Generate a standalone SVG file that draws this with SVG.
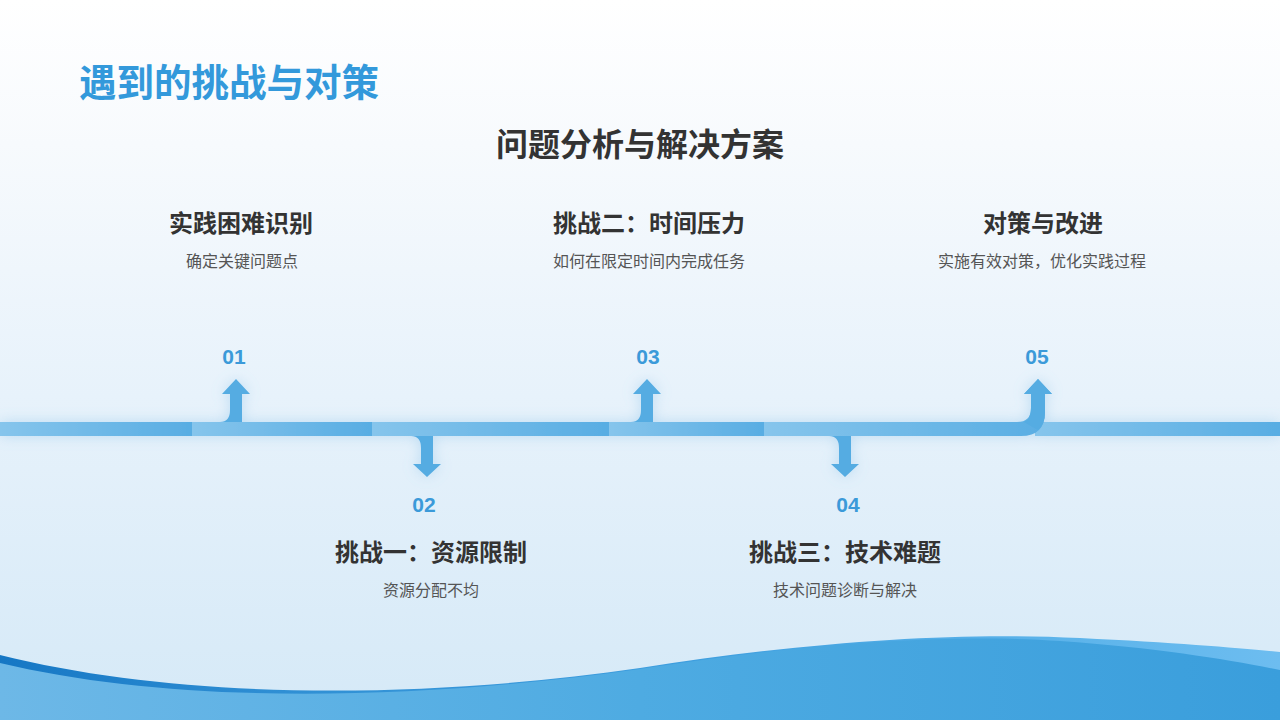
<svg xmlns="http://www.w3.org/2000/svg" width="1280" height="720" viewBox="0 0 1280 720">
  <defs>
    <linearGradient id="bg" x1="0" y1="0" x2="0" y2="1">
      <stop offset="0" stop-color="#ffffff"/>
      <stop offset="0.2" stop-color="#f7fafd"/>
      <stop offset="0.55" stop-color="#e7f2fb"/>
      <stop offset="1" stop-color="#d5e9f7"/>
    </linearGradient>
    <linearGradient id="waveBack" x1="0" y1="0" x2="1" y2="0">
      <stop offset="0" stop-color="#1677c4"/>
      <stop offset="0.22" stop-color="#2f8fd4"/>
      <stop offset="0.55" stop-color="#3f9fdf"/>
      <stop offset="0.82" stop-color="#5bb3ea"/>
      <stop offset="1" stop-color="#6dbdf0"/>
    </linearGradient>
    <linearGradient id="waveFront" x1="0" y1="0" x2="1" y2="0">
      <stop offset="0" stop-color="#6db8e7"/>
      <stop offset="0.5" stop-color="#4eabe2"/>
      <stop offset="1" stop-color="#3a9edc"/>
    </linearGradient>
    <linearGradient id="seg" x1="0" y1="0" x2="1" y2="0">
      <stop offset="0" stop-color="#86c5ec"/>
      <stop offset="1" stop-color="#58ade3"/>
    </linearGradient>
    <filter id="glow" x="-50%" y="-100%" width="200%" height="300%">
      <feGaussianBlur in="SourceAlpha" stdDeviation="7" result="b"/>
      <feFlood flood-color="#7dbbe6" flood-opacity="0.4"/>
      <feComposite in2="b" operator="in" result="s"/>
      <feMerge>
        <feMergeNode in="s"/>
        <feMergeNode in="SourceGraphic"/>
      </feMerge>
    </filter>
    <style>
      .h1 { font-family: "Noto Sans CJK SC", "Liberation Sans", sans-serif; font-weight: 700; font-size: 37.5px; fill: #3399db; }
      .h2 { font-family: "Noto Sans CJK SC", "Liberation Sans", sans-serif; font-weight: 700; font-size: 32px; fill: #333333; text-anchor: middle; }
      .num { font-family: "Liberation Sans", Arial, sans-serif; font-weight: 700; font-size: 21px; fill: #3b9ad9; text-anchor: middle; }
      .title { font-family: "Noto Sans CJK SC", "Liberation Sans", sans-serif; font-weight: 700; font-size: 24px; fill: #333333; text-anchor: middle; }
      .desc { font-family: "Noto Sans CJK SC", "Liberation Sans", sans-serif; font-size: 16px; fill: #555555; text-anchor: middle; }
      .seg { fill: url(#seg); }
      .arr { fill: #55ace2; }
    </style>
  </defs>

  <rect x="0" y="0" width="1280" height="720" fill="url(#bg)"/>

  <!-- bottom wave -->
  <g id="wave">
    <path d="M0,655 C180,700 420,700 640,668 C820,640 960,632 1080,638 C1180,643 1240,648 1280,652 L1280,720 L0,720 Z" fill="url(#waveBack)"/>
    <path d="M0,663 C180,706 420,700 640,669 C820,641 960,634 1060,641 C1160,648 1230,660 1280,670 L1280,720 L0,720 Z" fill="url(#waveFront)"/>
  </g>

  <text class="h1" x="79" y="96">遇到的挑战与对策</text>
  <text class="h2" x="640" y="156">问题分析与解决方案</text>

  <!-- connectors: timeline bar and arrows -->
  <g id="connectors" filter="url(#glow)">
    <rect class="seg" x="1035" y="422" width="245" height="14"/>
    <rect class="seg" x="0" y="422" width="192" height="14"/>
    <rect class="seg" x="192" y="422" width="180" height="14"/>
    <rect class="seg" x="372" y="422" width="237" height="14"/>
    <rect class="seg" x="609" y="422" width="155" height="14"/>
    <path class="seg" d="M764,422 L1017,422 Q1031,422 1031,408 L1031,394 L1024,394 L1038,379 L1052,394 L1045,394 L1045,412 Q1045,436 1021,436 L764,436 Z"/>
    <path class="arr" d="M1031,408 L1031,394 L1024,394 L1038,379 L1052,394 L1045,394 L1045,412 Q1045,424 1038,430 L1024,422 Q1031,420 1031,408 Z"/>
    <!-- 01 up -->
    <path class="arr" d="M220,422 Q230,422 230,410 L230,394 L222,394 L236,379 L250,394 L242,394 L242,422 Z"/>
    <!-- 02 down -->
    <path class="arr" d="M411,436 Q421,436 421,448 L421,464 L413,464 L427,477 L441,464 L433,464 L433,436 Z"/>
    <!-- 03 up -->
    <path class="arr" d="M631,422 Q641,422 641,410 L641,394 L633,394 L647,379 L661,394 L653,394 L653,422 Z"/>
    <!-- 04 down -->
    <path class="arr" d="M829,436 Q839,436 839,448 L839,464 L831,464 L845,477 L859,464 L851,464 L851,436 Z"/>
  </g>

  <g id="node-01">
    <text class="num" x="234" y="364">01</text>
    <text class="title" x="241" y="232">实践困难识别</text>
    <text class="desc" x="242" y="267">确定关键问题点</text>
  </g>
  <g id="node-02">
    <text class="num" x="424" y="512">02</text>
    <text class="title" x="431" y="561">挑战一：资源限制</text>
    <text class="desc" x="431" y="596">资源分配不均</text>
  </g>
  <g id="node-03">
    <text class="num" x="648" y="364">03</text>
    <text class="title" x="649" y="232">挑战二：时间压力</text>
    <text class="desc" x="649" y="267">如何在限定时间内完成任务</text>
  </g>
  <g id="node-04">
    <text class="num" x="848" y="512">04</text>
    <text class="title" x="845" y="561">挑战三：技术难题</text>
    <text class="desc" x="845" y="596">技术问题诊断与解决</text>
  </g>
  <g id="node-05">
    <text class="num" x="1037" y="364">05</text>
    <text class="title" x="1043" y="232">对策与改进</text>
    <text class="desc" x="1042" y="267">实施有效对策，优化实践过程</text>
  </g>
</svg>
